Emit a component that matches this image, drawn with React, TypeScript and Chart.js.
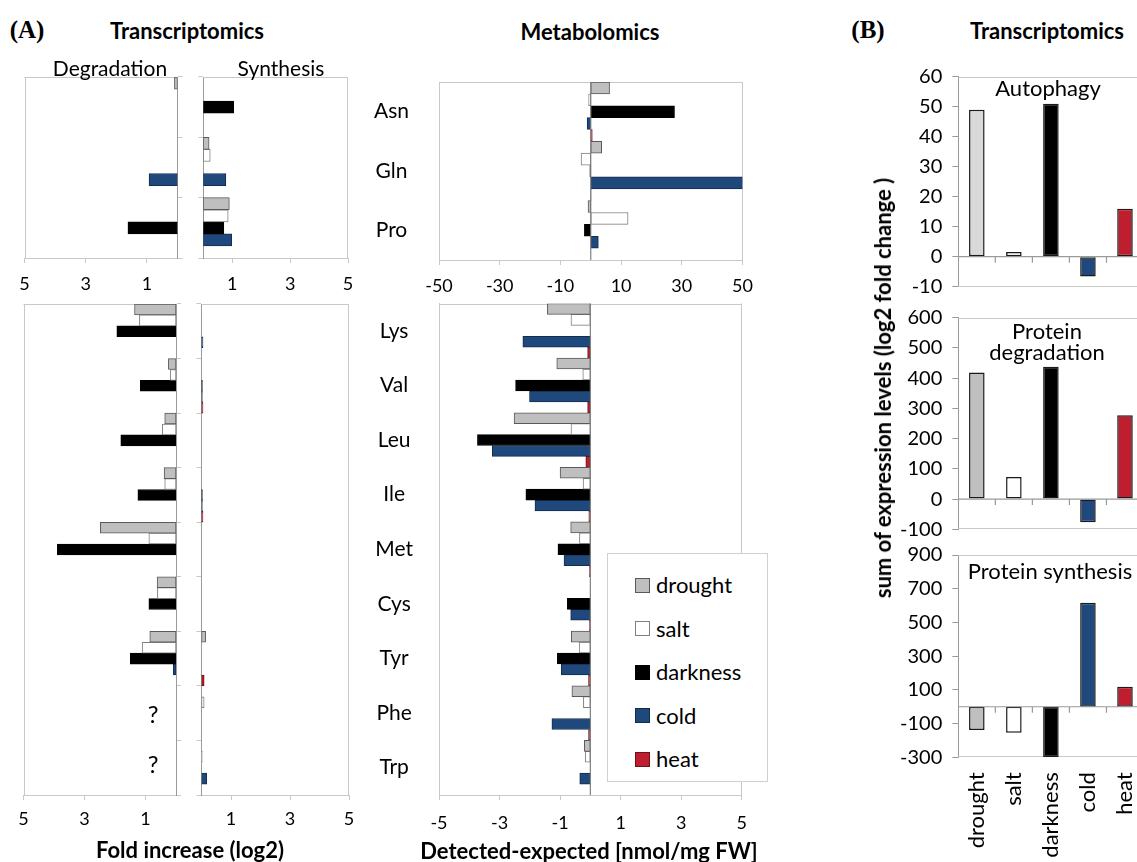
import React, { useEffect, useRef } from 'react';
import { Chart, registerables } from 'chart.js';

Chart.register(...registerables);

const FONT = 'Lato, "Open Sans", "DejaVu Sans", sans-serif';
Chart.defaults.font.family = FONT;
Chart.defaults.color = '#000';

// ---------- categories & tick labels ----------
const SERIES = ['drought', 'salt', 'darkness', 'cold', 'heat'];
const TOP_AMINO = ['Asn', 'Gln', 'Pro'];
const BOTTOM_AMINO = ['Lys', 'Val', 'Leu', 'Ile', 'Met', 'Cys', 'Tyr', 'Phe', 'Trp'];

const TRANS_TICKS = [1, 3, 5];
const MET_TOP_TICKS = [-50, -30, -10, 10, 30, 50];
const MET_BOTTOM_TICKS = [-5, -3, -1, 1, 3, 5];
const AUTO_TICKS = [-10, 0, 10, 20, 30, 40, 50, 60];
const PDEG_TICKS = [-100, 0, 100, 200, 300, 400, 500, 600];
const PSYN_TICKS = [-300, -100, 100, 300, 500, 700, 900];

// ---------- (A) Transcriptomics: degradation, top (Asn, Gln, Pro) ----------
const degTopDrought = [0.1, 0, 0];
const degTopSalt = [0, 0, 0];
const degTopDarkness = [0, 0, 1.62];
const degTopCold = [0, 0.93, 0];
const degTopHeat = [0, 0, 0];

// ---------- (A) Transcriptomics: synthesis, top ----------
const synTopDrought = [0, 0.2, 0.9];
const synTopSalt = [0, 0.24, 0.86];
const synTopDarkness = [1.05, 0, 0.71];
const synTopCold = [0, 0.78, 0.98];
const synTopHeat = [0, 0, 0];

// ---------- (A) Transcriptomics: degradation, bottom (Lys..Trp) ----------
const degBotDrought = [1.36, 0.25, 0.37, 0.39, 2.48, 0.62, 0.86, null, null];
const degBotSalt = [1.2, 0.19, 0.45, 0.37, 0.89, 0.61, 1.11, null, null];
const degBotDarkness = [1.94, 1.17, 1.81, 1.25, 3.89, 0.89, 1.5, null, null];
const degBotCold = [0, 0, 0, 0, 0, 0, 0.09, null, null];
const degBotHeat = [0, 0, 0, 0, 0, 0, 0, null, null];

// ---------- (A) Transcriptomics: synthesis, bottom ----------
const synBotDrought = [0, 0, 0, 0, 0, 0, 0.14, 0, 0];
const synBotSalt = [0, 0, 0, 0, 0, 0, 0, 0.09, 0.03];
const synBotDarkness = [0, 0.03, 0, 0.03, 0, 0, 0, 0, 0];
const synBotCold = [0.05, 0.03, 0, 0.03, 0, 0, 0, 0, 0.18];
const synBotHeat = [0, 0.05, 0, 0.05, 0, 0, 0.09, 0, 0];

// ---------- (A) Metabolomics, top (nmol/mg FW) ----------
const metTopDrought = [6.2, 3.6, -0.9];
const metTopSalt = [-0.7, -3.2, 12.3];
const metTopDarkness = [27.6, -0.3, -2.1];
const metTopCold = [-1.2, 50, 2.5];
const metTopHeat = [0.5, 0.1, 0];

// ---------- (A) Metabolomics, bottom ----------
const metBotDrought = [-1.42, -1.11, -2.52, -1.0, -0.65, 0, -0.63, -0.61, -0.2];
const metBotSalt = [-0.64, -0.25, -0.64, -0.24, -0.36, 0, -0.37, -0.23, -0.17];
const metBotDarkness = [0, -2.47, -3.73, -2.13, -1.07, -0.76, -1.09, 0, 0];
const metBotCold = [-2.23, -2.01, -3.24, -1.83, -0.87, -0.65, -0.96, -1.27, -0.35];
const metBotHeat = [-0.09, -0.09, -0.15, -0.05, -0.03, -0.03, -0.06, -0.06, 0];

// ---------- (B) Transcriptomics sums ----------
const autophagy = [49, 1.6, 51, -6.6, 16];
const proteinDegradation = [419, 73, 438, -77, 277];
const proteinSynthesis = [-138, -154, -300, 617, 119];

// ---------- styles ----------
const FILL = ['#bfbfbf', '#ffffff', '#000000', '#1f497d', '#be1e2d'];
const EDGE = ['#595959', '#7f7f7f', '#000000', '#132d4d', '#6e1118'];
const AUTO_FILL = ['#d9d9d9', '#ffffff', '#000000', '#1f497d', '#be1e2d'];
const GRID = '#c8c8c8';
const AXIS = '#9a9a9a';

type Box = { L: number; T: number; W: number; H: number };
type Area = { l: number; t: number; r: number; b: number };

function sizeTo(px: number) {
  return (scale: any) => {
    if (scale.isHorizontal()) scale.height = px;
    else scale.width = px;
    scale.paddingLeft = 0;
    scale.paddingRight = 0;
    scale.paddingTop = 0;
    scale.paddingBottom = 0;
  };
}

function fixTicks(values: number[]) {
  return (scale: any) => {
    scale.ticks = values.map((v) => ({ value: v }));
  };
}

function layoutFor(box: Box, area: Area, yPos: 'left' | 'right') {
  const top = area.t - box.T;
  const bottom = box.T + box.H - area.b;
  const left = area.l - box.L;
  const right = box.L + box.W - area.r;
  return {
    padding: {
      top,
      bottom: 0,
      left: yPos === 'left' ? 0 : left,
      right: yPos === 'right' ? 0 : right,
    },
    xSize: bottom,
    ySize: yPos === 'left' ? left : right,
  };
}

const framePlugin = {
  id: 'frame',
  beforeDatasetsDraw(chart: any, _a: any, o: any) {
    const { ctx, chartArea: a } = chart;
    const s: string = o.sides || '';
    ctx.save();
    ctx.strokeStyle = o.color || GRID;
    ctx.lineWidth = 1;
    ctx.beginPath();
    const T = Math.round(a.top) + 0.5;
    const B = Math.round(a.bottom) - 0.5;
    const Lx = Math.round(a.left) + 0.5;
    const R = Math.round(a.right) - 0.5;
    if (s.includes('t')) { ctx.moveTo(a.left, T); ctx.lineTo(a.right, T); }
    if (s.includes('b')) { ctx.moveTo(a.left, B); ctx.lineTo(a.right, B); }
    if (s.includes('l')) { ctx.moveTo(Lx, a.top); ctx.lineTo(Lx, a.bottom); }
    if (s.includes('r')) { ctx.moveTo(R, a.top); ctx.lineTo(R, a.bottom); }
    ctx.stroke();
    ctx.restore();
  },
  afterDatasetsDraw(chart: any, _a: any, o: any) {
    if (!o.zero) return;
    const { ctx, chartArea: a, scales } = chart;
    ctx.save();
    ctx.strokeStyle = o.zeroColor || AXIS;
    ctx.lineWidth = o.zeroWidth || 1.2;
    ctx.beginPath();
    if (o.zero === 'x') {
      const x = scales.x.getPixelForValue(0);
      ctx.moveTo(x, a.top);
      ctx.lineTo(x, a.bottom);
    } else {
      const y = scales.y.getPixelForValue(0);
      ctx.moveTo(a.left, y);
      ctx.lineTo(a.right, y);
      if (o.catTicks) {
        const xs = scales.x;
        const n = chart.data.labels.length;
        for (let i = 1; i < n; i++) {
          const bx = (xs.getPixelForValue(i - 1) + xs.getPixelForValue(i)) / 2;
          ctx.moveTo(bx, y);
          ctx.lineTo(bx, y + o.catTicks);
        }
      }
    }
    ctx.stroke();
    ctx.restore();
  },
};

function hDatasets(arrs: (number | null)[][]) {
  return SERIES.map((name, i) => ({
    label: name,
    data: arrs[i],
    backgroundColor: FILL[i],
    borderColor: EDGE[i],
    borderWidth: 1,
    borderSkipped: false,
    categoryPercentage: 1,
    barPercentage: 1,
  }));
}

// Transcriptomics (A) horizontal bars
function transConfig(labels: string[], arrs: (number | null)[][], box: Box, area: Area, side: 'deg' | 'syn', tickPad: number) {
  const yPos = side === 'deg' ? 'right' : 'left';
  const lay = layoutFor(box, area, yPos);
  return {
    type: 'bar',
    data: { labels, datasets: hDatasets(arrs) },
    plugins: [framePlugin],
    options: {
      indexAxis: 'y',
      animation: false,
      responsive: false,
      layout: { padding: lay.padding },
      plugins: {
        legend: { display: false },
        tooltip: { enabled: false },
        frame: { sides: side === 'deg' ? 'tl' : 'tr' },
      },
      scales: {
        x: {
          type: 'linear',
          position: 'bottom',
          reverse: side === 'deg',
          min: 0,
          max: 5,
          afterBuildTicks: fixTicks(TRANS_TICKS),
          afterFit: sizeTo(lay.xSize),
          grid: { drawOnChartArea: false, tickLength: 5, color: GRID },
          border: { color: GRID },
          ticks: { font: { size: 18 }, padding: tickPad, color: '#000' },
        },
        y: {
          type: 'category',
          position: yPos,
          offset: true,
          afterFit: sizeTo(lay.ySize),
          grid: { offset: true, drawOnChartArea: false, tickLength: 5, color: GRID },
          border: { color: AXIS },
          ticks: { display: false },
        },
      },
    },
  };
}

// Metabolomics (A) horizontal bars
function metConfig(labels: string[], arrs: (number | null)[][], box: Box, area: Area, lim: number, ticks: number[], labelPad: number, tickPad: number) {
  const lay = layoutFor(box, area, 'left');
  return {
    type: 'bar',
    data: { labels, datasets: hDatasets(arrs) },
    plugins: [framePlugin],
    options: {
      indexAxis: 'y',
      animation: false,
      responsive: false,
      layout: { padding: lay.padding },
      plugins: {
        legend: { display: false },
        tooltip: { enabled: false },
        frame: { sides: 'tr', zero: 'x', zeroColor: '#7f7f7f' },
      },
      scales: {
        x: {
          type: 'linear',
          position: 'bottom',
          min: -lim,
          max: lim,
          afterBuildTicks: fixTicks(ticks),
          afterFit: sizeTo(lay.xSize),
          grid: { drawOnChartArea: false, tickLength: 5, color: GRID },
          border: { color: GRID },
          ticks: { font: { size: 18 }, padding: tickPad, color: '#000' },
        },
        y: {
          type: 'category',
          position: 'left',
          offset: true,
          afterFit: sizeTo(lay.ySize),
          grid: { display: false, drawTicks: false },
          border: { display: true, color: GRID },
          ticks: { font: { size: 21 }, crossAlign: 'center', padding: labelPad, color: '#000' },
        },
      },
    },
  };
}

// (B) vertical bars
function vConfig(values: number[], fills: string[], box: Box, area: Area, yMin: number, yMax: number, ticks: number[], showLabels: boolean) {
  const lay = layoutFor(box, area, 'left');
  return {
    type: 'bar',
    data: {
      labels: SERIES,
      datasets: [
        {
          data: values,
          backgroundColor: fills,
          borderColor: '#1a1a1a',
          borderWidth: 1.5,
          borderSkipped: false,
          barPercentage: 0.42,
          categoryPercentage: 1,
        },
      ],
    },
    plugins: [framePlugin],
    options: {
      animation: false,
      responsive: false,
      layout: { padding: lay.padding },
      plugins: {
        legend: { display: false },
        tooltip: { enabled: false },
        frame: { sides: 'trb', zero: 'y', zeroColor: AXIS, catTicks: 6 },
      },
      scales: {
        x: {
          type: 'category',
          offset: true,
          afterFit: sizeTo(lay.xSize),
          grid: { display: false, drawTicks: false },
          border: { display: false },
          ticks: {
            display: showLabels,
            autoSkip: false,
            maxRotation: 90,
            minRotation: 90,
            padding: 15,
            font: { size: 22 },
            color: '#000',
          },
        },
        y: {
          type: 'linear',
          min: yMin,
          max: yMax,
          afterBuildTicks: fixTicks(ticks),
          afterFit: sizeTo(lay.ySize),
          grid: { drawOnChartArea: false, tickLength: 6, color: AXIS },
          border: { color: AXIS },
          ticks: { font: { size: 20 }, padding: 10, color: '#000' },
        },
      },
    },
  };
}

function ChartBox({ box, config }: { box: Box; config: any }) {
  const ref = useRef<HTMLCanvasElement>(null);
  useEffect(() => {
    const chart = new Chart(ref.current as HTMLCanvasElement, config);
    return () => chart.destroy();
  }, []);
  return (
    <canvas
      ref={ref}
      width={box.W}
      height={box.H}
      style={{ position: 'absolute', left: box.L, top: box.T, width: box.W, height: box.H }}
    />
  );
}

function Txt({ x, y, text, size, bold, family, rotate }: { x: number; y: number; text: string; size: number; bold?: boolean; family?: string; rotate?: boolean }) {
  return (
    <div
      style={{
        position: 'absolute',
        left: x,
        top: y,
        transform: `translate(-50%, -50%)${rotate ? ' rotate(-90deg)' : ''}`,
        fontFamily: family || FONT,
        fontSize: size,
        fontWeight: bold ? 700 : 400,
        lineHeight: 1,
        whiteSpace: 'nowrap',
        color: '#000',
      }}
    >
      {text}
    </div>
  );
}

// chart placement
const B_DEG_TOP: Box = { L: 0, T: 50, W: 200, H: 250 };
const A_DEG_TOP: Area = { l: 24.5, t: 77, r: 177.5, b: 258 };
const B_SYN_TOP: Box = { L: 180, T: 50, W: 190, H: 250 };
const A_SYN_TOP: Area = { l: 203.3, t: 77, r: 348, b: 258 };
const B_DEG_BOT: Box = { L: 0, T: 280, W: 200, H: 560 };
const A_DEG_BOT: Area = { l: 23.5, t: 304, r: 176, b: 795 };
const B_SYN_BOT: Box = { L: 180, T: 280, W: 190, H: 560 };
const A_SYN_BOT: Area = { l: 201.5, t: 304, r: 349, b: 795 };
const B_MET_TOP: Box = { L: 350, T: 60, W: 420, H: 240 };
const A_MET_TOP: Area = { l: 439, t: 82, r: 742.5, b: 260 };
const B_MET_BOT: Box = { L: 350, T: 280, W: 420, H: 560 };
const A_MET_BOT: Area = { l: 439, t: 303.5, r: 741.7, b: 795 };
const B_AUTO: Box = { L: 895, T: 60, W: 260, H: 240 };
const A_AUTO: Area = { l: 958.3, t: 76.7, r: 1143.5, b: 286.7 };
const B_PDEG: Box = { L: 895, T: 300, W: 260, H: 240 };
const A_PDEG: Area = { l: 958.3, t: 317.7, r: 1143.5, b: 529.3 };
const B_PSYN: Box = { L: 895, T: 540, W: 260, H: 322 };
const A_PSYN: Area = { l: 958.3, t: 555, r: 1143.5, b: 757.3 };

const LEGEND_ITEMS = SERIES;

export default function App() {
  return (
    <div
      style={{
        position: 'absolute',
        left: 0,
        top: 0,
        width: 1137,
        height: 862,
        overflow: 'hidden',
        background: '#fff',
      }}
    >
      <ChartBox
        box={B_DEG_TOP}
        config={transConfig(TOP_AMINO, [degTopDrought, degTopSalt, degTopDarkness, degTopCold, degTopHeat], B_DEG_TOP, A_DEG_TOP, 'deg', 10)}
      />
      <ChartBox
        box={B_SYN_TOP}
        config={transConfig(TOP_AMINO, [synTopDrought, synTopSalt, synTopDarkness, synTopCold, synTopHeat], B_SYN_TOP, A_SYN_TOP, 'syn', 10)}
      />
      <ChartBox
        box={B_DEG_BOT}
        config={transConfig(BOTTOM_AMINO, [degBotDrought, degBotSalt, degBotDarkness, degBotCold, degBotHeat], B_DEG_BOT, A_DEG_BOT, 'deg', 8)}
      />
      <ChartBox
        box={B_SYN_BOT}
        config={transConfig(BOTTOM_AMINO, [synBotDrought, synBotSalt, synBotDarkness, synBotCold, synBotHeat], B_SYN_BOT, A_SYN_BOT, 'syn', 8)}
      />
      <ChartBox
        box={B_MET_TOP}
        config={metConfig(TOP_AMINO, [metTopDrought, metTopSalt, metTopDarkness, metTopCold, metTopHeat], B_MET_TOP, A_MET_TOP, 50, MET_TOP_TICKS, 30, 10)}
      />
      <ChartBox
        box={B_MET_BOT}
        config={metConfig(BOTTOM_AMINO, [metBotDrought, metBotSalt, metBotDarkness, metBotCold, metBotHeat], B_MET_BOT, A_MET_BOT, 5, MET_BOTTOM_TICKS, 26, 12)}
      />
      <ChartBox box={B_AUTO} config={vConfig(autophagy, AUTO_FILL, B_AUTO, A_AUTO, -10, 60, AUTO_TICKS, false)} />
      <ChartBox box={B_PDEG} config={vConfig(proteinDegradation, FILL, B_PDEG, A_PDEG, -100, 600, PDEG_TICKS, false)} />
      <ChartBox box={B_PSYN} config={vConfig(proteinSynthesis, FILL, B_PSYN, A_PSYN, -300, 900, PSYN_TICKS, true)} />

      {/* legend */}
      <div
        style={{
          position: 'absolute',
          left: 607,
          top: 553,
          width: 159,
          height: 227,
          border: '1px solid #d0d0d0',
          background: '#fff',
        }}
      >
        {LEGEND_ITEMS.map((name, i) => (
          <div key={name} style={{ position: 'absolute', left: 27, top: 31 + i * 43.5 - 11, height: 22, display: 'flex', alignItems: 'center' }}>
            <div
              style={{
                width: 13,
                height: 13,
                background: FILL[i],
                border: `1px solid ${EDGE[i]}`,
                marginRight: 6,
              }}
            />
            <span style={{ fontFamily: FONT, fontSize: 22, lineHeight: 1, color: '#000' }}>{name}</span>
          </div>
        ))}
      </div>

      <Txt x={27} y={29} text="(A)" size={25} bold family='"Liberation Serif", "DejaVu Serif", serif' />
      <Txt x={868} y={29} text="(B)" size={25} bold family='"Liberation Serif", "DejaVu Serif", serif' />
      <Txt x={187} y={31} text="Transcriptomics" size={22} bold />
      <Txt x={590} y={32} text="Metabolomics" size={22} bold />
      <Txt x={1047} y={31} text="Transcriptomics" size={22} bold />
      <Txt x={110} y={67} text="Degradation" size={21} />
      <Txt x={281} y={67} text="Synthesis" size={21} />
      <Txt x={153} y={714} text="?" size={24} />
      <Txt x={153} y={764} text="?" size={24} />
      <Txt x={190} y={850} text="Fold increase (log2)" size={22} bold />
      <Txt x={589} y={851} text="Detected-expected [nmol/mg FW]" size={22} bold />
      <Txt x={1048} y={88} text="Autophagy" size={22} />
      <Txt x={1047} y={331} text="Protein" size={22} />
      <Txt x={1047} y={352} text="degradation" size={22} />
      <Txt x={1050} y={571} text="Protein synthesis" size={22} />
      <Txt x={883} y={388} text="sum of expression levels (log2 fold change )" size={22} bold rotate />
    </div>
  );
}
